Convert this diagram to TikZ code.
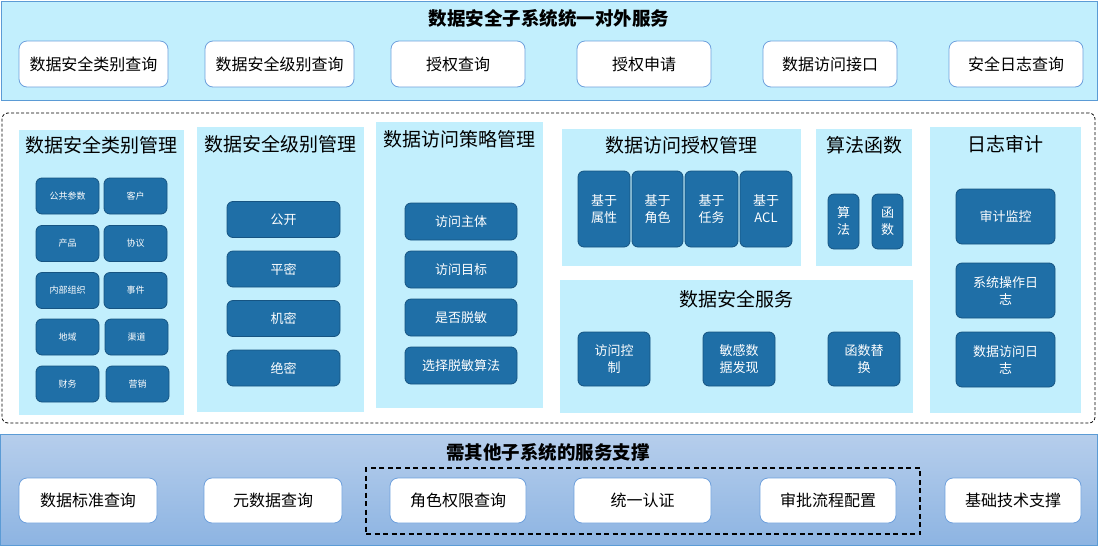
\documentclass[tikz,border=0pt]{standalone}
\usepackage{fontspec}
\setmainfont{Noto Sans CJK SC}
\usepackage{xcolor}
\usepackage{tikz}
\definecolor{barfill}{RGB}{194,239,253}
\definecolor{barline}{RGB}{91,155,213}
\definecolor{btnline}{RGB}{110,160,220}
\definecolor{darkbtn}{RGB}{31,111,167}
\definecolor{darkline}{RGB}{22,84,130}
\definecolor{lowtop}{RGB}{182,206,236}
\definecolor{lowbot}{RGB}{141,180,226}
\newcommand{\fs}[2]{\fontsize{#1}{#2}\selectfont}

\begin{document}
\begin{tikzpicture}[x=1pt,y=-1pt,
    bar/.style={draw=barline,line width=1pt,inner sep=0pt},
    panel/.style={fill=barfill,inner sep=0pt},
    wbtn/.style={draw=btnline,fill=white,rounded corners=8pt,line width=0.8pt,
      minimum height=46pt,inner sep=0pt,font=\fs{16}{20}},
    dbtn/.style={draw=darkline,fill=darkbtn,rounded corners=6pt,line width=0.8pt,
      inner sep=0pt,text=white,align=center,font=\fs{13}{17}},
    sbtn/.style={dbtn,minimum width=63pt,minimum height=36pt,font=\fs{9}{11}},
    ptitle/.style={inner sep=0pt,font=\fs{19}{23}},
    btitle/.style={inner sep=0pt,font=\bfseries\fs{18.5}{22}}]
    \useasboundingbox (0,0) rectangle (1101,547);

    % top: services offered
    \node[bar,fill=barfill,minimum width=1096pt,minimum height=99pt] (top) at (549,50.5) {};
    \node[btitle] (toptitle) at (549,18) {数据安全子系统统一对外服务};
    \node[wbtn,minimum width=149pt] (q1) at (93.5,64) {数据安全类别查询};
    \node[wbtn,minimum width=149pt] (q2) at (279.5,64) {数据安全级别查询};
    \node[wbtn,minimum width=134pt] (q3) at (458,64) {授权查询};
    \node[wbtn,minimum width=134pt] (q4) at (644,64) {授权申请};
    \node[wbtn,minimum width=134pt] (q5) at (830,64) {数据访问接口};
    \node[wbtn,minimum width=134pt] (q6) at (1016,64) {安全日志查询};

    % middle: modules
    \node[draw,dash pattern=on 3pt off 2pt,rounded corners=6pt,line width=0.8pt,
      minimum width=1093pt,minimum height=310pt] (core) at (548.5,268) {};

    \node[panel,minimum width=165pt,minimum height=285pt] (cls) at (101.5,272.5) {};
    \node[ptitle] (clstitle) at (101.5,145) {数据安全类别管理};
    \node[sbtn] (c1) at (67.5,196) {公共参数};
    \node[sbtn] (c2) at (135.5,196) {客户};
    \node[sbtn] (c3) at (67.5,243.5) {产品};
    \node[sbtn] (c4) at (135.5,243.5) {协议};
    \node[sbtn] (c5) at (67.5,290.5) {内部组织};
    \node[sbtn] (c6) at (135.5,290.5) {事件};
    \node[sbtn] (c7) at (67.5,337) {地域};
    \node[sbtn] (c8) at (136.5,337) {渠道};
    \node[sbtn] (c9) at (67.5,384) {财务};
    \node[sbtn] (c10) at (137.5,384) {营销};

    \node[panel,minimum width=167pt,minimum height=285pt] (lvl) at (280.5,269.5) {};
    \node[ptitle] (lvltitle) at (280.5,144) {数据安全级别管理};
    \node[dbtn,minimum width=113pt,minimum height=36pt] (l1) at (283.5,219.5) {公开};
    \node[dbtn,minimum width=113pt,minimum height=36pt] (l2) at (283.5,269) {平密};
    \node[dbtn,minimum width=113pt,minimum height=36pt] (l3) at (283.5,318.5) {机密};
    \node[dbtn,minimum width=113pt,minimum height=36pt] (l4) at (283.5,368) {绝密};

    \node[panel,minimum width=167pt,minimum height=286pt] (pol) at (459.5,265) {};
    \node[ptitle] (poltitle) at (459.5,139) {数据访问策略管理};
    \node[dbtn,minimum width=112pt,minimum height=37pt] (p1) at (461,221.5) {访问主体};
    \node[dbtn,minimum width=112pt,minimum height=37pt] (p2) at (461,269.5) {访问目标};
    \node[dbtn,minimum width=112pt,minimum height=37pt] (p3) at (461,317.5) {是否脱敏};
    \node[dbtn,minimum width=112pt,minimum height=37pt] (p4) at (461,365.5) {选择脱敏算法};

    \node[panel,minimum width=239pt,minimum height=137pt] (auth) at (681.5,197.5) {};
    \node[ptitle] (authtitle) at (681.5,145) {数据访问授权管理};
    \node[dbtn,minimum width=52pt,minimum height=76pt] (a1) at (604,209) {基于\\属性};
    \node[dbtn,minimum width=51pt,minimum height=76pt] (a2) at (657.5,209) {基于\\角色};
    \node[dbtn,minimum width=53pt,minimum height=76pt] (a3) at (711.5,209) {基于\\任务};
    \node[dbtn,minimum width=52pt,minimum height=76pt] (a4) at (766,209) {基于\\ACL};

    \node[panel,minimum width=96pt,minimum height=137pt] (alg) at (864,197.5) {};
    \node[ptitle] (algtitle) at (864,145) {算法函数};
    \node[dbtn,minimum width=31pt,minimum height=55pt] (f1) at (843.5,221.5) {算\\法};
    \node[dbtn,minimum width=31pt,minimum height=55pt] (f2) at (887.5,221.5) {函\\数};

    \node[panel,minimum width=353pt,minimum height=133pt] (srv) at (736.5,346.5) {};
    \node[ptitle] (srvtitle) at (736.5,299) {数据安全服务};
    \node[dbtn,minimum width=72pt,minimum height=54pt] (s1) at (614,359) {访问控\\制};
    \node[dbtn,minimum width=72pt,minimum height=54pt] (s2) at (739,359) {敏感数\\据发现};
    \node[dbtn,minimum width=72pt,minimum height=54pt] (s3) at (864,359) {函数替\\换};

    \node[panel,minimum width=151pt,minimum height=286pt] (log) at (1005.5,270) {};
    \node[ptitle] (logtitle) at (1005.5,144) {日志审计};
    \node[dbtn,minimum width=99pt,minimum height=55pt] (g1) at (1005.5,216.5) {审计监控};
    \node[dbtn,minimum width=99pt,minimum height=55pt] (g2) at (1005.5,290.5) {系统操作日\\志};
    \node[dbtn,minimum width=99pt,minimum height=55pt] (g3) at (1005.5,359.5) {数据访问日\\志};

    % bottom: support from other subsystems
    \node[bar,top color=lowtop,bottom color=lowbot,minimum width=1097pt,minimum height=111pt] (low) at (548.5,489.5) {};
    \node[btitle] (lowtitle) at (548,452) {需其他子系统的服务支撑};
    \node[draw,dash pattern=on 5pt off 3.5pt,line width=1.2pt,
      minimum width=554pt,minimum height=66pt] (grp) at (643,501) {};
    \node[wbtn,minimum width=138pt,minimum height=45pt] (b1) at (88,500.5) {数据标准查询};
    \node[wbtn,minimum width=138pt,minimum height=45pt] (b2) at (273,500.5) {元数据查询};
    \node[wbtn,minimum width=136pt,minimum height=45pt] (b3) at (458,500.5) {角色权限查询};
    \node[wbtn,minimum width=137pt,minimum height=45pt] (b4) at (642.5,500.5) {统一认证};
    \node[wbtn,minimum width=136pt,minimum height=45pt] (b5) at (828,500.5) {审批流程配置};
    \node[wbtn,minimum width=136pt,minimum height=45pt] (b6) at (1013,500.5) {基础技术支撑};
  \end{tikzpicture}
\end{document}
